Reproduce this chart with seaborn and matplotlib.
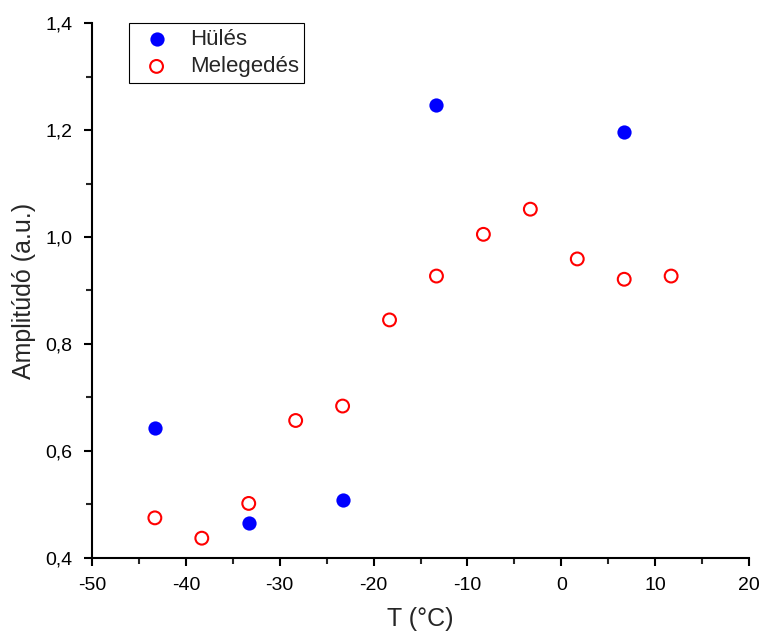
import matplotlib
matplotlib.use('Agg')
import matplotlib.pyplot as plt
import matplotlib.ticker as mticker
import pandas as pd
import seaborn as sns

# Hülés (cooling) - filled blue
hules_t = [-43.3, -33.3, -23.3, -13.3, 6.7]
hules_amp = [0.643, 0.465, 0.508, 1.247, 1.197]

# Melegedés (warming) - open red
meleg_t = [-43.3, -38.3, -33.3, -28.3, -23.3, -18.3, -13.3, -8.3, -3.3, 1.7, 6.7, 11.7]
meleg_amp = [0.475, 0.437, 0.502, 0.657, 0.684, 0.845, 0.927, 1.005, 1.052, 0.959, 0.921, 0.927]

sns.set_style('ticks')
plt.rcParams['font.family'] = ['Liberation Sans', 'DejaVu Sans']

df_h = pd.DataFrame({'T': hules_t, 'A': hules_amp})
df_m = pd.DataFrame({'T': meleg_t, 'A': meleg_amp})

fig = plt.figure(figsize=(7.62, 6.34), dpi=100)
ax = fig.add_axes([0.1207, 0.1199, 0.8623, 0.8438])

sns.scatterplot(x='T', y='A', data=df_h, ax=ax, marker='o', s=105,
                color='#0000ff', edgecolor='#0000ff', linewidth=0, label='Hülés')
sns.scatterplot(x='T', y='A', data=df_m, ax=ax, marker='o', s=85,
                facecolor='none', edgecolor='#ff0000', linewidth=1.5, label='Melegedés')

ax.set_xlim(-50, 20)
ax.set_ylim(0.4, 1.4)
ax.xaxis.set_major_locator(mticker.MultipleLocator(10))
ax.xaxis.set_minor_locator(mticker.MultipleLocator(5))
ax.yaxis.set_major_locator(mticker.MultipleLocator(0.2))
ax.yaxis.set_minor_locator(mticker.MultipleLocator(0.1))
ax.yaxis.set_major_formatter(mticker.FuncFormatter(lambda v, p: f'{v:.1f}'.replace('.', ',')))
ax.xaxis.set_major_formatter(mticker.FuncFormatter(lambda v, p: f'{v:.0f}'))

sns.despine(ax=ax)
for s in ['left', 'bottom']:
    ax.spines[s].set_linewidth(1.5)
    ax.spines[s].set_color('black')
ax.tick_params(which='major', direction='out', length=6, width=1.5, labelsize=14,
               colors='black', pad=8)
ax.tick_params(which='minor', direction='out', length=4, width=1.5)

ax.set_xlabel('T (°C)', fontsize=18, labelpad=9)
ax.set_ylabel('Amplitúdó (a.u.)', fontsize=18, labelpad=7)

leg = ax.legend(loc='upper left', bbox_to_anchor=(0.056, 1.0), fontsize=16,
                frameon=True, fancybox=False, edgecolor='black', framealpha=1,
                handletextpad=0.5, borderpad=0.25, labelspacing=0.3,
                borderaxespad=0, handlelength=2.0)
leg.get_frame().set_linewidth(0.8)

fig.savefig('out.png', dpi=100)
